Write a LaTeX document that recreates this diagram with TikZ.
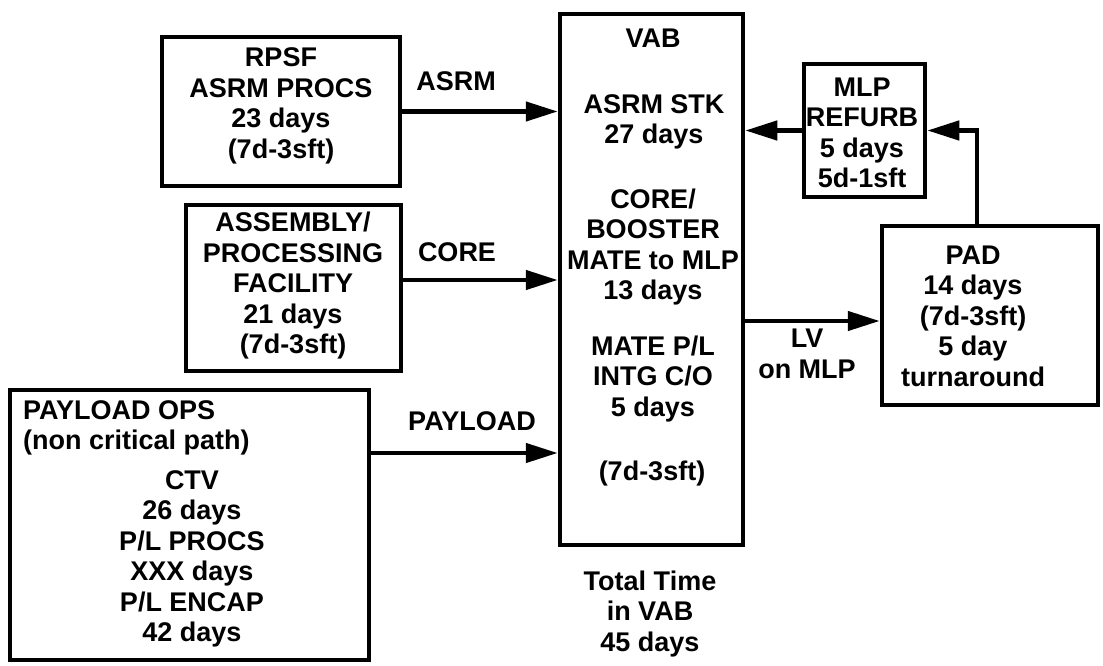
\documentclass[tikz,border=0pt]{standalone}
\usepackage{fontspec}
\setmainfont{Liberation Sans}
\usetikzlibrary{arrows.meta}
\begin{document}
\begin{tikzpicture}[x=1pt,y=-1pt,
  box/.style={draw, line width=4.5pt, inner sep=0pt},
  txt/.style={align=center, inner sep=0pt, font=\fontsize{27}{30.5}\selectfont\bfseries},
  arr/.style={line width=4.5pt, -{Triangle[length=32pt 0 0,width=19pt 0 0]}}]
\useasboundingbox (0,0) rectangle (1103,666);
% boxes
\node[box, minimum width=238pt, minimum height=149pt] (rpsf) at (281,111.5) {};
\node[box, minimum width=215pt, minimum height=166pt] (asm) at (293.5,288) {};
\node[box, minimum width=359pt, minimum height=270pt] (pay) at (189.5,525) {};
\node[box, minimum width=183pt, minimum height=531pt] (vab) at (651.5,279.5) {};
\node[box, minimum width=121pt, minimum height=133pt] (mlp) at (864.5,130.5) {};
\node[box, minimum width=216pt, minimum height=179pt] (pad) at (990,315.5) {};
% box texts
\node[txt] (trpsf) at (281,106) {RPSF\\ASRM PROCS\\23 days\\(7d-3sft)};
\node[txt] (tasm) at (293,286) {ASSEMBLY/\\PROCESSING\\FACILITY\\21 days\\(7d-3sft)};
\node[txt, align=left, anchor=west] (tpay1) at (23,428) {PAYLOAD OPS\\(non critical path)};
\node[txt] (tpay2) at (192,559) {CTV\\26 days\\P/L PROCS\\XXX days\\P/L ENCAP\\42 days};
\node[txt] (tvab0) at (653,38) {VAB};
\node[txt] (tvab1) at (654,122) {ASRM STK\\27 days};
\node[txt] (tvab2) at (653,247) {CORE/\\BOOSTER\\MATE to MLP\\13 days};
\node[txt] (tvab3) at (653,379) {MATE P/L\\INTG C/O\\5 days};
\node[txt] (tvab4) at (652,474) {(7d-3sft)};
\node[txt] (tmlp) at (862,133) {MLP\\REFURB\\5 days\\5d-1sft};
\node[txt] (tpad) at (973,316) {PAD\\14 days\\(7d-3sft)\\5 day\\turnaround};
\node[txt] (ttot) at (650,614) {Total Time\\in VAB\\45 days};
% arrow labels
\node[txt] (lasrm) at (456,81) {ASRM};
\node[txt] (lcore) at (457,252) {CORE};
\node[txt] (lpay) at (472,421) {PAYLOAD};
\node[txt] (llv) at (807,354) {LV\\on MLP};
% connectors
\draw[arr] (rpsf.east) -- (rpsf.east -| vab.west);
\draw[arr] (asm.east |- 0,280) -- (vab.west |- 0,280);
\draw[arr] (pay.east |- 0,453) -- (vab.west |- 0,453);
\draw[arr] (mlp.west) -- (mlp.west -| vab.east);
\draw[arr] (pad.north -| 977,0) |- (mlp.east);
\draw[arr] (vab.east |- 0,321) -- (pad.west |- 0,321);
\end{tikzpicture}
\end{document}
